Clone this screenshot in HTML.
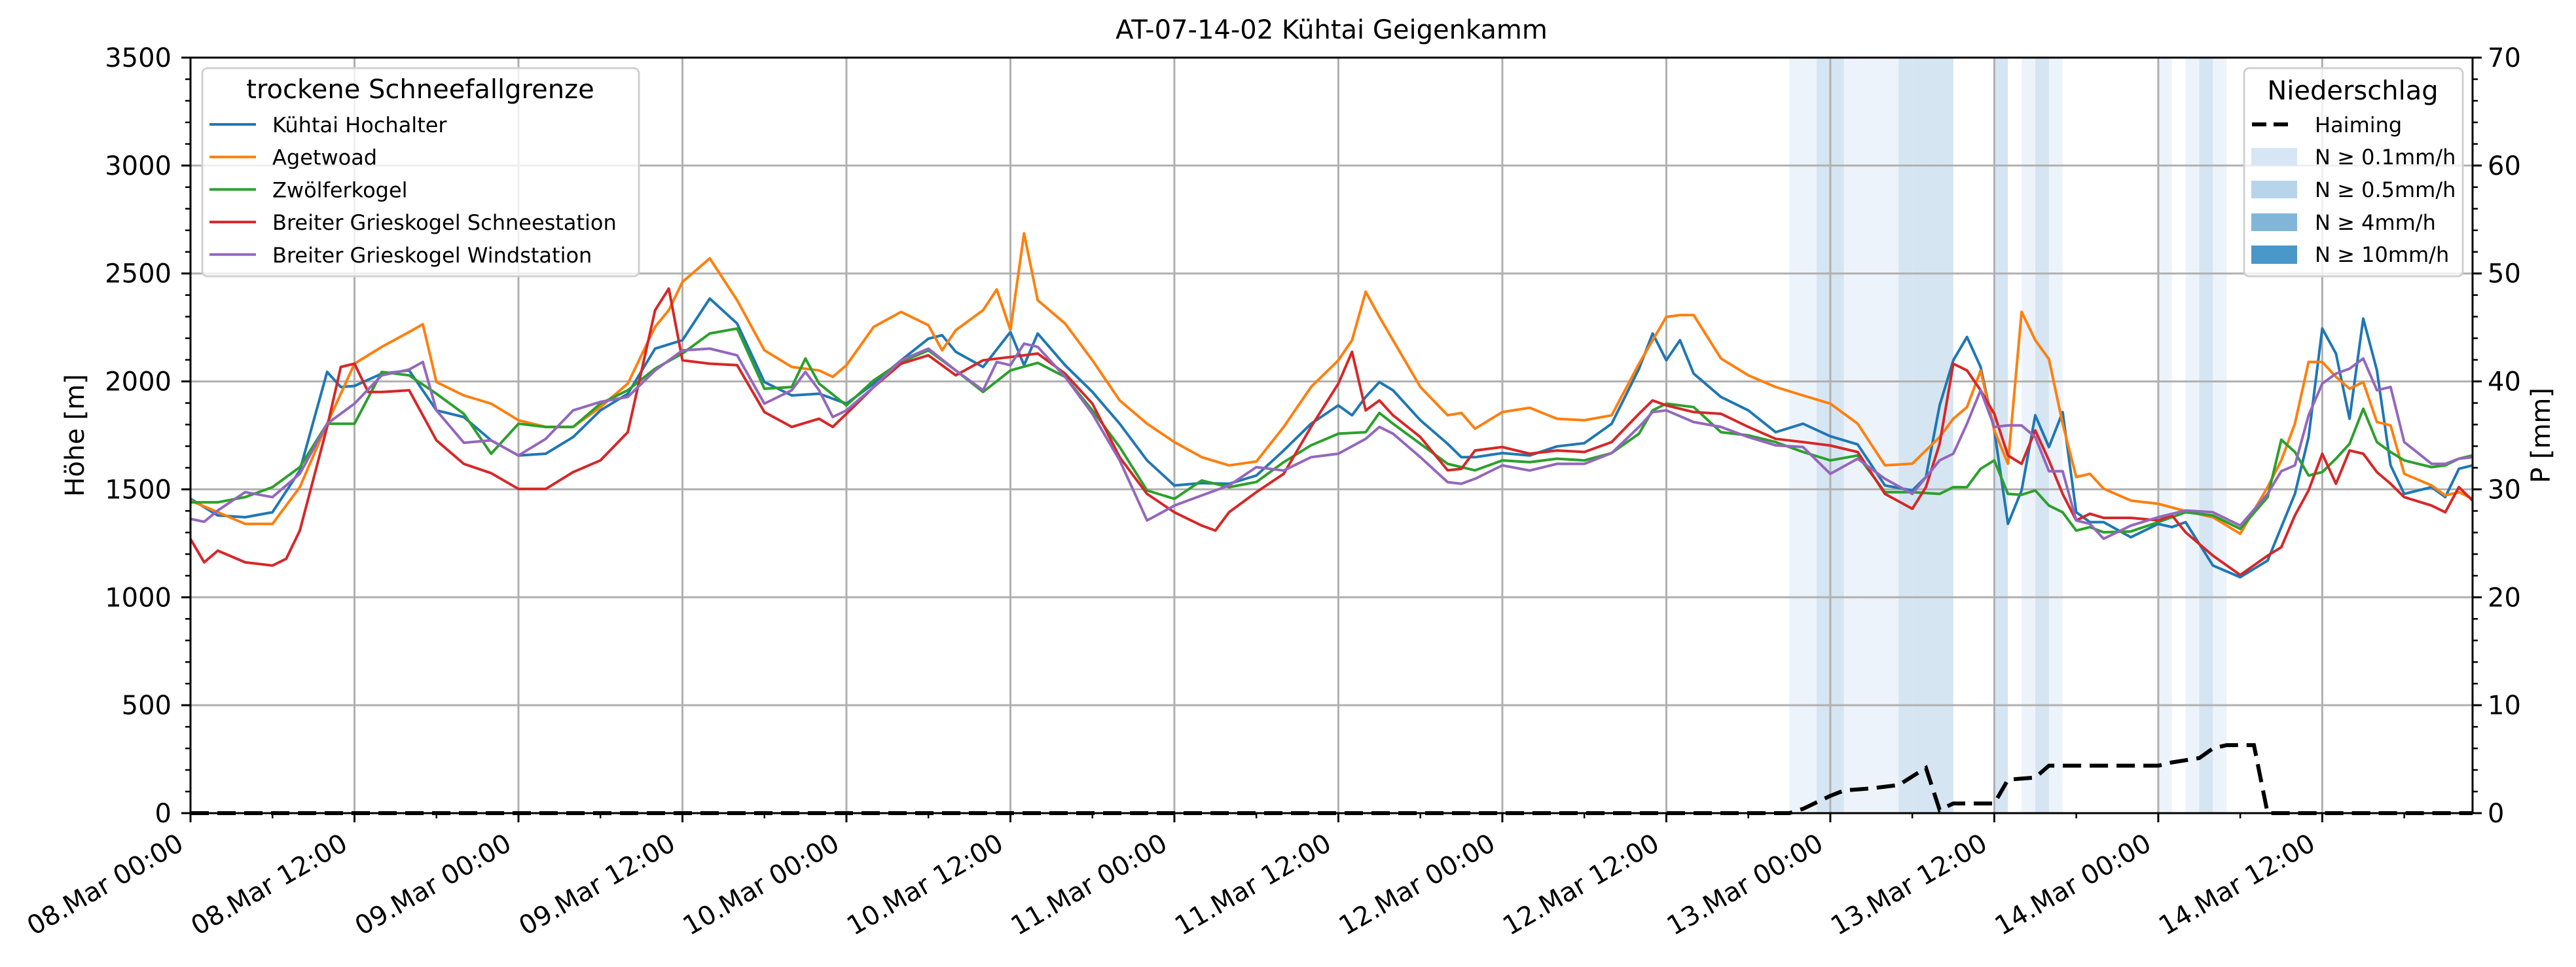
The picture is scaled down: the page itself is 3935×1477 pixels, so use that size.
<!DOCTYPE html>
<html><head><meta charset="utf-8"><title>AT-07-14-02 Kühtai Geigenkamm</title>
<style>html,body{margin:0;padding:0;background:#fff}svg{display:block}text{font-family:"DejaVu Sans","Liberation Sans",sans-serif}</style>
</head><body>
<svg id="chart" xmlns="http://www.w3.org/2000/svg" width="3935" height="1477" viewBox="0 0 3935 1477">
<rect x="0" y="0" width="3935" height="1477" fill="#fff"/>
<g id="bands"></g>
<g id="grid"></g>
<g id="series"></g>
<g id="precip"></g>
<g id="axes"></g>
<text x="2034" y="59" font-size="40" text-anchor="middle">AT-07-14-02 Kühtai Geigenkamm</text>
<text transform="translate(128,665) rotate(-90)" font-size="40" text-anchor="middle">Höhe [m]</text>
<text transform="translate(3895,665) rotate(-90)" font-size="40" text-anchor="middle">P [mm]</text>
<g id="legend1">
<rect x="309" y="104" width="667" height="318" rx="8" fill="#fff" fill-opacity="0.8" stroke="#d0d0d0" stroke-width="3"/>
<text x="642" y="150" font-size="40" text-anchor="middle">trockene Schneefallgrenze</text>
</g>
<g id="legend2">
<rect x="3428" y="104" width="334" height="318" rx="8" fill="#fff" fill-opacity="0.8" stroke="#d0d0d0" stroke-width="3"/>
<text x="3594" y="152" font-size="40" text-anchor="middle">Niederschlag</text>
<line x1="3440" y1="190" x2="3500" y2="190" stroke="#000" stroke-width="6" stroke-dasharray="22,11"/>
<text x="3536" y="202" font-size="32">Haiming</text>
<rect x="3439" y="226" width="70" height="27" fill="#d6e6f4"/>
<text x="3536" y="251" font-size="32">N ≥ 0.1mm/h</text>
<rect x="3439" y="276" width="70" height="27" fill="#b7d4ea"/>
<text x="3536" y="301" font-size="32">N ≥ 0.5mm/h</text>
<rect x="3439" y="326" width="70" height="27" fill="#81b6d8"/>
<text x="3536" y="351" font-size="32">N ≥ 4mm/h</text>
<rect x="3439" y="375" width="70" height="28" fill="#4a97c9"/>
<text x="3536" y="400" font-size="32">N ≥ 10mm/h</text>
</g>
</svg>
<script>
const seriesNames = ["Kühtai Hochalter","Agetwoad","Zwölferkogel","Breiter Grieskogel Schneestation","Breiter Grieskogel Windstation"];
const seriesColors = ["#1f77b4","#ff7f0e","#2ca02c","#d62728","#9467bd"];
const kuehtaiHochalter = [[0,1456],[2,1379],[4,1371],[6,1394],[8,1587],[10,2044],[11,1974],[12,1979],[14,2036],[16,2051],[18,1866],[20,1835],[22,1727],[24,1657],[26,1665],[28,1742],[30,1866],[32,1943],[34,2152],[36,2191],[38,2384],[40,2268],[42,1997],[44,1935],[46,1943],[48,1897],[50,1990],[52,2098],[54,2198],[55,2214],[56,2137],[58,2067],[60,2229],[61,2075],[62,2222],[64,2075],[66,1951],[68,1804],[70,1634],[72,1518],[74,1529],[76,1526],[78,1564],[80,1680],[82,1804],[84,1889],[85,1843],[86,1928],[87,1997],[88,1959],[90,1820],[92,1711],[93,1649],[94,1649],[96,1668],[98,1657],[100,1699],[102,1714],[104,1804],[106,2059],[107,2222],[108,2098],[109,2191],[110,2036],[112,1928],[114,1866],[116,1765],[118,1804],[120,1746],[122,1708],[124,1518],[126,1495],[127,1557],[128,1889],[129,2098],[130,2206],[131,2067],[132,1773],[133,1340],[134,1495],[135,1843],[136,1696],[137,1858],[138,1394],[139,1348],[140,1348],[142,1278],[144,1340],[145,1325],[146,1348],[148,1147],[150,1093],[152,1170],[153,1325],[154,1479],[155,1742],[156,2245],[157,2129],[158,1827],[159,2291],[160,2051],[161,1611],[162,1479],[164,1510],[165,1464],[166,1595],[167,1611]];
const agetwoad = [[0,1448],[2,1394],[4,1340],[6,1340],[8,1510],[10,1804],[12,2082],[14,2160],[16,2229],[17,2265],[18,1997],[20,1935],[22,1897],[24,1820],[26,1789],[28,1789],[30,1881],[32,1990],[34,2253],[35,2330],[36,2461],[38,2570],[40,2376],[42,2144],[44,2067],[46,2051],[47,2021],[48,2075],[50,2253],[52,2322],[54,2260],[55,2144],[56,2237],[58,2330],[59,2426],[60,2237],[61,2686],[62,2376],[64,2268],[66,2098],[68,1912],[70,1804],[72,1719],[74,1649],[76,1611],[78,1629],[80,1789],[82,1974],[84,2098],[85,2191],[86,2415],[87,2299],[88,2191],[90,1974],[92,1843],[93,1854],[94,1781],[96,1858],[98,1878],[100,1827],[102,1820],[104,1843],[106,2082],[108,2299],[109,2307],[110,2307],[112,2106],[114,2028],[116,1974],[118,1935],[120,1897],[122,1804],[124,1611],[126,1619],[128,1742],[129,1827],[130,1881],[131,2051],[132,1773],[133,1619],[134,2322],[135,2191],[136,2103],[137,1804],[138,1557],[139,1572],[140,1503],[142,1448],[144,1433],[146,1399],[148,1371],[150,1294],[152,1510],[153,1634],[154,1804],[155,2090],[156,2090],[157,2021],[158,1966],[159,1997],[160,1812],[161,1796],[162,1572],[164,1518],[165,1472],[166,1487],[167,1456]];
const zwoelferkogel = [[0,1440],[2,1440],[4,1464],[6,1510],[8,1603],[10,1804],[12,1804],[14,2044],[16,2028],[18,1943],[20,1850],[22,1665],[24,1804],[26,1789],[28,1789],[30,1897],[32,1959],[34,2059],[36,2129],[38,2222],[40,2245],[42,1966],[44,1974],[45,2106],[46,1990],[48,1889],[50,2005],[52,2090],[54,2144],[56,2051],[58,1951],[60,2051],[62,2086],[64,2021],[66,1866],[68,1696],[70,1495],[72,1456],[74,1541],[76,1510],[78,1534],[80,1626],[82,1704],[84,1758],[86,1765],[87,1854],[88,1804],[90,1711],[92,1618],[94,1588],[96,1634],[98,1626],[100,1642],[102,1634],[104,1668],[106,1758],[107,1866],[108,1897],[110,1881],[112,1765],[114,1750],[116,1719],[118,1673],[120,1634],[122,1657],[124,1487],[126,1487],[128,1479],[129,1510],[130,1510],[131,1595],[132,1634],[133,1479],[134,1475],[135,1495],[136,1425],[137,1394],[138,1309],[139,1325],[140,1301],[142,1305],[144,1348],[146,1394],[148,1379],[150,1317],[152,1464],[153,1730],[154,1673],[155,1564],[156,1580],[157,1642],[158,1711],[159,1873],[160,1719],[161,1673],[162,1634],[164,1603],[165,1611],[166,1642],[167,1657]];
const grieskogelSchnee = [[0,1270],[1,1162],[2,1216],[4,1162],[6,1147],[7,1178],[8,1309],[10,1789],[11,2067],[12,2082],[13,1951],[14,1951],[16,1959],[18,1727],[20,1618],[22,1575],[24,1502],[26,1502],[28,1580],[30,1634],[32,1765],[34,2330],[35,2430],[36,2098],[38,2082],[40,2075],[42,1858],[44,1789],[46,1827],[47,1789],[48,1850],[50,1974],[52,2082],[54,2121],[56,2028],[58,2098],[60,2113],[62,2129],[64,2036],[66,1897],[68,1649],[70,1479],[72,1394],[74,1332],[75,1309],[76,1394],[78,1487],[80,1572],[82,1789],[84,1990],[85,2137],[86,1866],[87,1912],[88,1843],[90,1742],[92,1588],[93,1595],[94,1680],[96,1696],[98,1665],[100,1680],[102,1673],[104,1719],[106,1850],[107,1912],[108,1889],[110,1858],[112,1850],[114,1789],[116,1734],[118,1719],[120,1703],[122,1673],[124,1479],[126,1410],[127,1510],[128,1711],[129,2082],[130,2051],[131,1959],[132,1850],[133,1657],[134,1618],[135,1773],[136,1634],[137,1479],[138,1356],[139,1387],[140,1368],[142,1368],[144,1356],[145,1379],[146,1301],[148,1193],[150,1103],[152,1193],[153,1232],[154,1379],[155,1495],[156,1665],[157,1526],[158,1680],[159,1665],[160,1580],[161,1526],[162,1464],[164,1425],[165,1394],[166,1510],[167,1448]];
const grieskogelWind = [[0,1363],[1,1350],[2,1402],[4,1487],[6,1464],[8,1572],[10,1804],[12,1897],[14,2028],[16,2055],[17,2090],[18,1866],[20,1716],[22,1727],[24,1657],[26,1734],[28,1866],[30,1905],[32,1928],[34,2051],[36,2144],[38,2152],[40,2121],[42,1897],[44,1959],[45,2044],[46,1959],[47,1835],[48,1866],[50,1974],[52,2098],[54,2152],[56,2051],[58,1959],[59,2090],[60,2075],[61,2175],[62,2160],[64,2021],[66,1850],[68,1634],[70,1356],[71,1390],[72,1425],[74,1472],[76,1518],[78,1603],[80,1587],[82,1649],[84,1665],[86,1734],[87,1789],[88,1758],[90,1649],[92,1533],[93,1526],[94,1549],[96,1611],[98,1587],[100,1618],[102,1618],[104,1668],[106,1789],[107,1858],[108,1866],[110,1812],[112,1789],[114,1742],[116,1704],[118,1696],[120,1572],[122,1642],[124,1549],[126,1479],[128,1634],[129,1665],[130,1804],[131,1959],[132,1789],[133,1796],[134,1796],[135,1742],[136,1584],[137,1584],[138,1356],[139,1340],[140,1271],[142,1332],[144,1371],[146,1402],[148,1394],[150,1332],[152,1479],[153,1584],[154,1611],[155,1843],[156,1990],[157,2036],[158,2059],[159,2106],[160,1959],[161,1974],[162,1719],[164,1618],[165,1618],[166,1642],[167,1649]];
const precipHours = [0,117,118,119,120,121,122,123,124,125,126,127,128,129,130,131,132,133,134,135,136,140,144,145,146,147,148,149,150,151,152,167];
const precipValues = [0,0,0.4,1.0,1.6,2.1,2.2,2.3,2.45,2.6,3.4,4.2,0.3,0.9,0.9,0.9,0.9,3.1,3.2,3.3,4.4,4.4,4.4,4.7,4.9,5.1,6.0,6.3,6.3,6.3,0,0];
const lightBandHours = [117,118,121,122,123,124,134,136,144,146,148];
const midBandHours = [119,120,125,126,127,128,132,135,147];
const xTickLabels = ["08.Mar 00:00","08.Mar 12:00","09.Mar 00:00","09.Mar 12:00","10.Mar 00:00","10.Mar 12:00","11.Mar 00:00","11.Mar 12:00","12.Mar 00:00","12.Mar 12:00","13.Mar 00:00","13.Mar 12:00","14.Mar 00:00","14.Mar 12:00"];
const yTickLabels = [0,500,1000,1500,2000,2500,3000,3500];
const y2TickLabels = [0,10,20,30,40,50,60,70];

const NS = "http://www.w3.org/2000/svg";
const L = 291, R = 3777, T = 88, B = 1242, XMAX = 167;
function xs(h){ return L + h * (R - L) / XMAX; }
function ys(v){ return B - v * (B - T) / 3500; }
function y2s(p){ return B - p * (B - T) / 70; }
function mk(tag, attrs, parent){ const e = document.createElementNS(NS, tag); for (const k in attrs) e.setAttribute(k, attrs[k]); parent.appendChild(e); return e; }

const gB = document.getElementById('bands');
lightBandHours.forEach(h => {
  const r = mk('rect', {x: xs(h), y: T, width: xs(h+1)-xs(h), height: B-T, fill: '#edf3fa'}, gB);
  
  
});
midBandHours.forEach(h => {
  const r = mk('rect', {x: xs(h), y: T, width: xs(h+1)-xs(h), height: B-T, fill: '#d6e5f2'}, gB);
  
  
});

const gG = document.getElementById('grid');
xTickLabels.forEach((t, i) => {
  const x = xs(i*12);
  const g = mk('line', {x1: x, y1: T, x2: x, y2: B, stroke: '#b0b0b0', 'stroke-width': 3}, gG);
  
  
});
yTickLabels.forEach(v => {
  const y = ys(v);
  const g = mk('line', {x1: L, y1: y, x2: R, y2: y, stroke: '#b0b0b0', 'stroke-width': 3}, gG);
  
  
});

const gS = document.getElementById('series');
const allSeries = [kuehtaiHochalter, agetwoad, zwoelferkogel, grieskogelSchnee, grieskogelWind];
allSeries.forEach((s, i) => {
  const d = s.map((p, j) => (j ? 'L' : 'M') + xs(p[0]).toFixed(1) + ' ' + ys(p[1]).toFixed(1)).join(' ');
  const p = mk('path', {d: d, fill: 'none', stroke: seriesColors[i], 'stroke-width': 4, 'stroke-linejoin': 'round'}, gS);
  
  
});

const gP = document.getElementById('precip');
const pd = precipHours.map((h, j) => (j ? 'L' : 'M') + xs(h).toFixed(1) + ' ' + y2s(precipValues[j]).toFixed(1)).join(' ');
const pl = mk('path', {d: pd, fill: 'none', stroke: '#000', 'stroke-width': 6, 'stroke-dasharray': '28,13'}, gP);



const gA = document.getElementById('axes');
for (let h = 0; h <= XMAX; h += 6) {
  const major = h % 12 === 0;
  const t = mk('line', {x1: xs(h), y1: B, x2: xs(h), y2: B + (major ? 14 : 8), stroke: '#000', 'stroke-width': major ? 3 : 2.5}, gA);
  
  
}
xTickLabels.forEach((lab, i) => {
  const x = xs(i*12) - 8, y = 1296;
  const t = mk('text', {transform: 'translate(' + x + ',' + y + ') rotate(-30)', 'font-size': 40, 'text-anchor': 'end'}, gA);
  t.textContent = lab;
  
  
});
for (let v = 0; v <= 3500; v += 100) {
  const major = v % 500 === 0;
  const t = mk('line', {x1: L - (major ? 14 : 8), y1: ys(v), x2: L, y2: ys(v), stroke: '#000', 'stroke-width': major ? 3 : 2.5}, gA);
  
  
}
yTickLabels.forEach(v => {
  const t = mk('text', {x: 262, y: ys(v) + 14, 'font-size': 40, 'text-anchor': 'end'}, gA);
  t.textContent = v;
  
  
});
for (let p = 0; p <= 70; p += 2) {
  const major = p % 10 === 0;
  const t = mk('line', {x1: R, y1: y2s(p), x2: R + (major ? 14 : 8), y2: y2s(p), stroke: '#000', 'stroke-width': major ? 3 : 2.5}, gA);
  
  
}
y2TickLabels.forEach(p => {
  const t = mk('text', {x: 3800, y: y2s(p) + 14, 'font-size': 40}, gA);
  t.textContent = p;
  
  
});
const frame = mk('rect', {x: L, y: T, width: R - L, height: B - T, fill: 'none', stroke: '#000', 'stroke-width': 3}, gA);



const gL = document.getElementById('legend1');
seriesNames.forEach((n, i) => {
  const y = 190 + i * 49.7;
  const ln = mk('line', {x1: 320, y1: y, x2: 391, y2: y, stroke: seriesColors[i], 'stroke-width': 4}, gL);
  
  
  const tx = mk('text', {x: 416, y: y + 12, 'font-size': 32}, gL);
  tx.textContent = n;
  
  
});
</script>
</body></html>
